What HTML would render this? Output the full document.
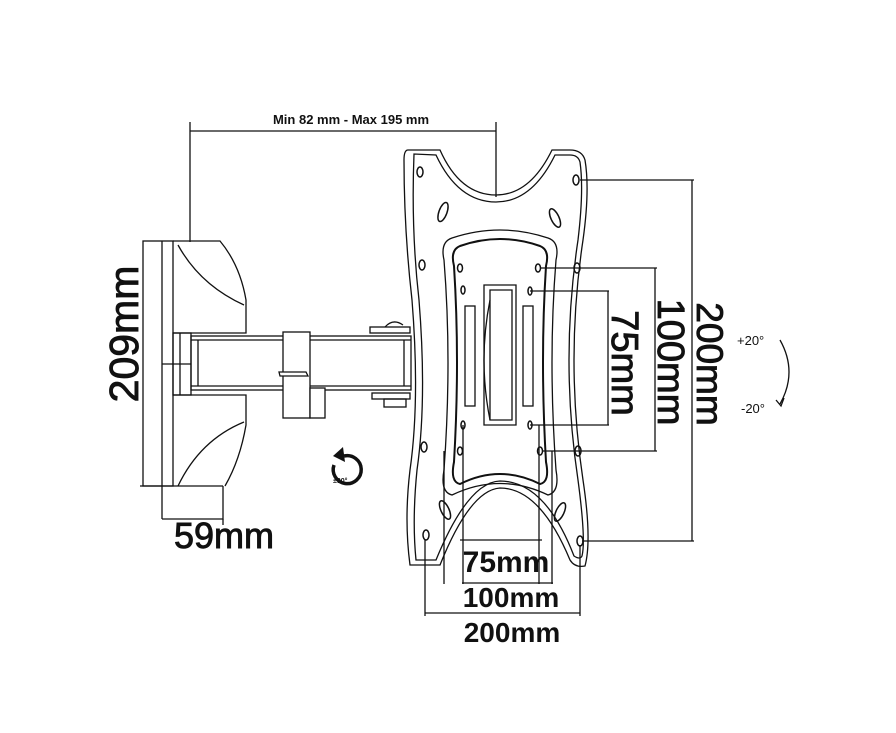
<!DOCTYPE html>
<html><head><meta charset="utf-8"><style>
html,body{margin:0;padding:0;background:#fff;}
svg{display:block;}
text{font-family:"Liberation Sans",Arial,sans-serif;fill:#111;}
.big{stroke:#111;stroke-width:0.9;}
</style></head><body>
<svg width="896" height="733" viewBox="0 0 896 733" xmlns="http://www.w3.org/2000/svg">
<g fill="none" stroke="#111" stroke-width="1.3">
<line x1="190" y1="122" x2="190" y2="242"/>
<line x1="496" y1="122" x2="496" y2="197"/>
<line x1="190" y1="131" x2="496" y2="131"/>
<rect x="143" y="241" width="30" height="245"/>
<line x1="162" y1="241" x2="162" y2="519"/>
<line x1="140" y1="486" x2="223" y2="486"/>
<path d="M173 241 H220 Q240 265 246 300 V333 H173"/>
<path d="M178 245 Q200 285 244 305" />
<path d="M173 395 H246 V425 Q240 460 225 486"/>
<path d="M178 486 Q200 440 244 422"/>
<path d="M223 486 V519 H162"/>
<line x1="223" y1="519" x2="223" y2="525"/>
<rect x="173" y="333" width="18" height="62"/>
<line x1="180" y1="333" x2="180" y2="395"/>
<line x1="162" y1="364" x2="191" y2="364"/>
<rect x="191" y="336" width="220" height="54"/>
<line x1="198" y1="340" x2="198" y2="386"/>
<line x1="191" y1="340" x2="411" y2="340"/>
<line x1="191" y1="386" x2="411" y2="386"/>
<line x1="404" y1="340" x2="404" y2="386"/>
<rect x="283" y="332" width="27" height="86" fill="#fff"/>
<rect x="310" y="388" width="15" height="30" fill="#fff"/>
<path d="M279 372 H306 L308 376 H280 Z" fill="#fff"/>
<rect x="370" y="327" width="40" height="6"/>
<path d="M385 327 Q393 318 403 325"/>
<rect x="372" y="393" width="38" height="6"/>
<rect x="384" y="399" width="22" height="8"/>
<path d="M334 465 A14 14 0 1 0 344 456" stroke-width="3.5"/>
<path d="M343 447 L333 456 L345 462 Z" fill="#111" stroke="none"/>
<path d="M408 150 Q404 150 404 160 Q404 230 412 300 Q420 400 410 470 Q404 520 410 565 H440 Q470 490 500 488 Q540 488 570 560 Q575 568 585 566 Q592 540 583 480 Q565 360 583 240 Q590 190 585 160 Q582 150 570 150 H552 Q530 195 496 195 Q460 195 440 150 Z"/>
<path d="M414 154 Q411 230 419 300 Q427 400 417 470 Q412 520 416 560 H436 Q468 482 500 481 Q545 481 574 556 Q580 560 582 556 Q586 540 578 480 Q560 360 578 240 Q584 190 580 162 Q578 155 570 155 H555 Q532 202 496 202 Q458 202 436 155 Z"/>
<path d="M452 238 Q500 222 548 238 Q560 242 556 260 Q548 360 556 470 Q560 492 548 495 Q500 472 452 495 Q440 492 444 470 Q452 360 444 260 Q440 242 452 238 Z"/>
<path d="M460 246 Q500 232 540 246 Q550 250 546 266 Q540 360 546 462 Q550 482 540 484 Q500 464 460 484 Q450 482 454 462 Q460 360 454 266 Q450 250 460 246 Z" stroke-width="2"/>
<path d="M484 285 H516 V425 H484 Z"/>
<path d="M490 290 H512 V420 H490 Z"/>
<path d="M490 300 Q478 360 490 420"/>
<rect x="465" y="306" width="10" height="100"/>
<rect x="523" y="306" width="10" height="100"/>
<g stroke-width="1.5">
<ellipse cx="420" cy="172" rx="3" ry="5"/><ellipse cx="576" cy="180" rx="3" ry="5"/>
<ellipse cx="422" cy="265" rx="3" ry="5"/><ellipse cx="577" cy="268" rx="3" ry="5"/>
<ellipse cx="424" cy="447" rx="3" ry="5"/><ellipse cx="578" cy="451" rx="3" ry="5"/>
<ellipse cx="426" cy="535" rx="3" ry="5"/><ellipse cx="580" cy="541" rx="3" ry="5"/>
<ellipse cx="460" cy="268" rx="2.5" ry="4"/><ellipse cx="538" cy="268" rx="2.5" ry="4"/>
<ellipse cx="463" cy="290" rx="2" ry="4"/><ellipse cx="530" cy="291" rx="2" ry="4"/>
<ellipse cx="463" cy="425" rx="2" ry="4"/><ellipse cx="530" cy="425" rx="2" ry="4"/>
<ellipse cx="460" cy="451" rx="2.5" ry="4"/><ellipse cx="540" cy="451" rx="2.5" ry="4"/>
<ellipse cx="443" cy="212" rx="4" ry="10" transform="rotate(20 443 212)"/>
<ellipse cx="555" cy="218" rx="4" ry="10" transform="rotate(-25 555 218)"/>
<ellipse cx="445" cy="510" rx="4" ry="10" transform="rotate(-25 445 510)"/>
<ellipse cx="560" cy="512" rx="4" ry="10" transform="rotate(25 560 512)"/>
</g>
<line x1="580" y1="180" x2="694" y2="180"/><line x1="582" y1="541" x2="694" y2="541"/>
<line x1="692" y1="180" x2="692" y2="541"/>
<line x1="540" y1="268" x2="657" y2="268"/><line x1="542" y1="451" x2="657" y2="451"/>
<line x1="655" y1="268" x2="655" y2="451"/>
<line x1="530" y1="291" x2="609" y2="291"/><line x1="530" y1="425" x2="609" y2="425"/>
<line x1="608" y1="291" x2="608" y2="425"/>
<line x1="463" y1="425" x2="463" y2="584"/><line x1="539" y1="425" x2="539" y2="584"/>
<line x1="460" y1="540" x2="542" y2="540"/>
<line x1="444" y1="451" x2="444" y2="584"/><line x1="552" y1="451" x2="552" y2="584"/>
<line x1="462" y1="583" x2="553" y2="583"/>
<line x1="425" y1="540" x2="425" y2="616"/><line x1="580" y1="545" x2="580" y2="616"/>
<line x1="425" y1="613" x2="580" y2="613"/>
<path d="M780 340 Q798 372 780 404"/>
<path d="M776 400 L781 406 L784 398"/>
</g>
<text x="351" y="124" font-size="13" font-weight="bold" text-anchor="middle">Min 82 mm - Max 195 mm</text>
<text x="333" y="483" font-size="7" font-weight="bold">±90°</text>
<text class="big" transform="translate(138,334) rotate(-90)" font-size="41" text-anchor="middle">209mm</text>
<text class="big" x="224" y="548" font-size="36" text-anchor="middle">59mm</text>
<text class="big" transform="translate(697,364) rotate(90)" font-size="37" text-anchor="middle">200mm</text>
<text class="big" transform="translate(658,362) rotate(90)" font-size="38" text-anchor="middle">100mm</text>
<text class="big" transform="translate(612,363) rotate(90)" font-size="38" text-anchor="middle">75mm</text>
<text x="506" y="572" font-size="30" font-weight="bold" text-anchor="middle">75mm</text>
<text x="511" y="607" font-size="28" font-weight="bold" text-anchor="middle">100mm</text>
<text x="512" y="642" font-size="28" font-weight="bold" text-anchor="middle">200mm</text>
<text x="737" y="345" font-size="13">+20°</text>
<text x="741" y="413" font-size="13">-20°</text>
</svg>
</body></html>
